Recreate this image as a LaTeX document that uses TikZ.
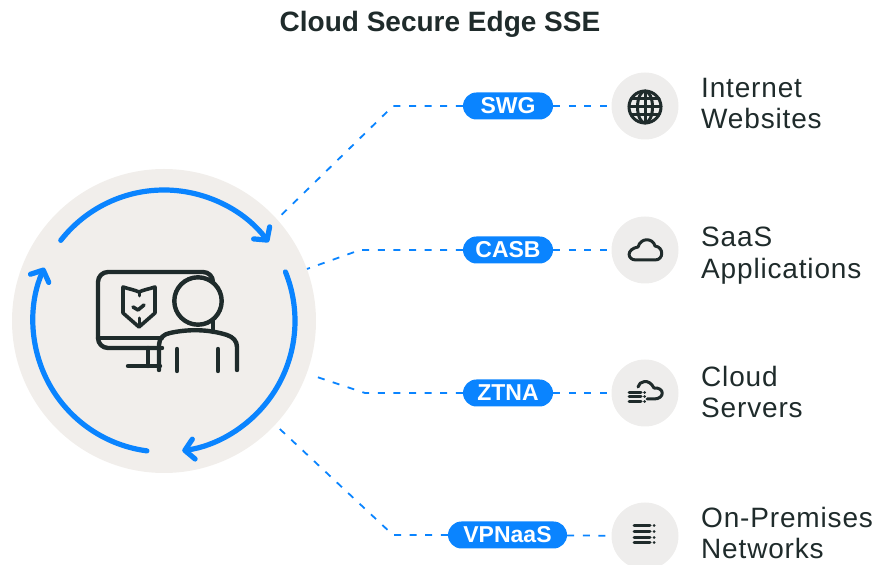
\documentclass[tikz,border=0pt]{standalone}
\usepackage{fontspec}
\setmainfont{Liberation Sans}[LetterSpace=3]
\newfontfamily\headfont{Liberation Sans}
\usetikzlibrary{arrows.meta}
\definecolor{edgeblue}{HTML}{0A84FF}
\definecolor{hubgray}{HTML}{F1EEEB}
\definecolor{icongray}{HTML}{EEEDEC}
\definecolor{inkdark}{HTML}{1F2B2B}
\tikzset{
  x=1pt,y=1pt,
  hubdisc/.style={circle,fill=hubgray,minimum size=304pt,inner sep=0pt},
  icondisc/.style={circle,fill=icongray,minimum size=67pt,inner sep=0pt},
  pill/.style={rounded corners=13.5pt,fill=edgeblue,text=white,minimum height=27pt,inner sep=0pt,
    font=\headfont\fontsize{23}{23}\selectfont\bfseries},
  destlabel/.style={anchor=west,inner sep=0pt,align=left,text=inkdark,
    font=\fontsize{28}{31.5}\selectfont},
  link/.style={edgeblue,line width=1.8pt,dash pattern=on 7pt off 8.6pt},
  looparc/.style={edgeblue,line width=5.2pt,line cap=round,
    -{Straight Barb[length=9pt,width=20pt,round]}},
  glyph/.style={inkdark,line width=4.4pt,line cap=round,line join=round},
  thinglyph/.style={inkdark,line width=3pt,line cap=round,line join=round},
}
\begin{document}
\begin{tikzpicture}
\useasboundingbox (0,0) rectangle (876,565);
\clip (0,0) rectangle (876,565);

\node[anchor=center,inner sep=0pt,text=inkdark,font=\headfont\fontsize{28}{28}\selectfont\bfseries] (title) at (440,541) {Cloud Secure Edge SSE};

\node[hubdisc] (hub) at (164,244) {};

% rotating arrows
\draw[looparc] (164,244) ++(142:131) arc[start angle=142,end angle=37,radius=131];
\draw[looparc] (164,244) ++(22:131) arc[start angle=22,end angle=-82,radius=131];
\draw[looparc] (164,244) ++(-97.5:131) arc[start angle=-97.5,end angle=-204,radius=131];

% monitor
\draw[glyph] (162,217) -- (108,217) arc[start angle=270,end angle=180,radius=10] -- (98,283)
  arc[start angle=180,end angle=90,radius=10] -- (203,293) arc[start angle=90,end angle=0,radius=10] -- (213,283);
\draw[glyph] (98,227) -- (162,227);
\draw[glyph] (213,245) -- (213,233);
\draw[glyph] (148,217) -- (148,199);
\draw[glyph] (128,199) -- (160,199);
% shield
\draw[glyph,line width=3.6pt] (123,278) .. controls (129,276) and (135,275) .. (139,273)
  .. controls (143,275) and (149,276) .. (155,278) -- (155,252) -- (139,238) -- (123,252) -- cycle;
\draw[thinglyph] (139,273) -- (139,269);
\draw[thinglyph] (139,247) -- (139,240);
\draw[glyph,line width=3.6pt] (133,258) -- (138,255) -- (144,260);
% person
\draw[glyph] (198,264) circle[radius=23.7];
\draw[glyph] (159,195) -- (159,220) .. controls (159,227) and (164,231) .. (170,232)
  .. controls (188,236) and (208,236) .. (227,230) .. controls (233,228) and (237,224) .. (237,218) -- (237,195);
\draw[glyph] (177,216) -- (177,194);
\draw[glyph] (218,216) -- (218,194);

% pills and discs
\node[pill,minimum width=90pt] (swg) at (508,459) {SWG};
\node[pill,minimum width=90pt] (casb) at (508,315) {CASB};
\node[pill,minimum width=90pt] (ztna) at (508,172) {ZTNA};
\node[pill,minimum width=119pt] (vpnaas) at (507.5,30) {VPNaaS};

\node[icondisc] (web) at (645,459) {};
\node[icondisc] (saas) at (645,315) {};
\node[icondisc] (servers) at (645,172) {};
\node[icondisc] (onprem) at (645,29) {};

% connectors
\coordinate (swgbend) at (393,459);
\coordinate (casbbend) at (360,315);
\coordinate (ztnabend) at (365,172);
\coordinate (ztnaend) at (311,190);
\coordinate (vpnbend) at (393,30);
\draw[link] (swg) -- (swgbend) -- (hub.42.6);
\draw[link] (casb) -- (casbbend) -- (hub.20);
\draw[link] (ztna) -- (ztnabend) -- (ztnaend);
\draw[link] (vpnaas) -- (vpnbend) -- (hub.-43);
\draw[link] (swg) -- (web);
\draw[link] (casb) -- (saas);
\draw[link] (ztna) -- (servers);
\draw[link] (vpnaas) -- (onprem);

% globe
\begin{scope}[shift={(645,458)}]
  \draw[thinglyph] (0,0) circle[radius=16];
  \draw[thinglyph] (0,0) ellipse[x radius=7.5,y radius=16];
  \draw[thinglyph] (0,16) -- (0,-16) (-16,0) -- (16,0) (-14,8) -- (14,8) (-14,-8) -- (14,-8);
\end{scope}

% cloud
\draw[thinglyph] (636,305) -- (655,305) .. controls (664,305) and (664,318) .. (655,319)
  .. controls (653,327) and (641,328) .. (638,318) .. controls (626,316) and (627,305) .. (636,305) -- cycle;

% cloud with racks
\draw[thinglyph] (638,178) .. controls (639,184) and (649,187) .. (654,177)
  .. controls (665,178) and (665,166) .. (654,166) -- (647,166);
\draw[thinglyph] (629,172) -- (641,172) (629,168) -- (641,168) (629,163) -- (641,163);
\draw[thinglyph] (644.5,172) -- (644.6,172) (644.5,168) -- (644.6,168) (644.5,163) -- (644.6,163);

% racks
\draw[thinglyph] (634,39) -- (650,39) (634,33) -- (650,33) (634,27) -- (650,27) (634,22) -- (650,22);
\draw[thinglyph] (654,39) -- (654.1,39) (654,33) -- (654.1,33) (654,27) -- (654.1,27) (654,22) -- (654.1,22);

% labels
\node[destlabel] (weblabel) at (701,461.5) {Internet\\Websites};
\node[destlabel] (saaslabel) at (701,309.5) {SaaS\\Applications};
\node[destlabel] (serverslabel) at (701,173) {Cloud\\Servers};
\node[destlabel] (onpremlabel) at (701,32) {On-Premises\\Networks};
\end{tikzpicture}
\end{document}
